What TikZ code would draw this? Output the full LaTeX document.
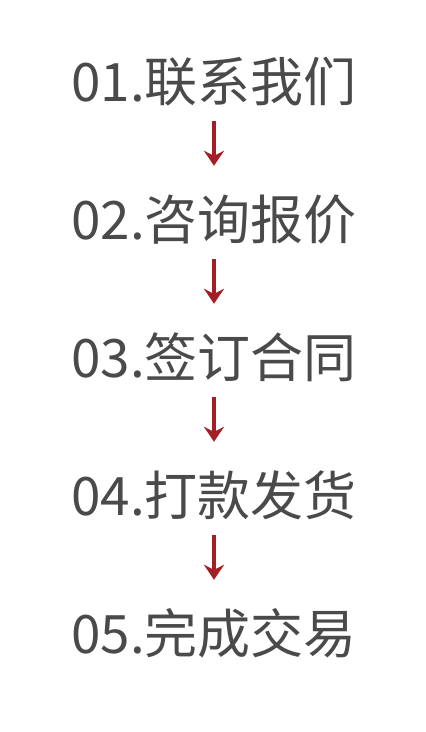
\documentclass[tikz,border=0pt]{standalone}
\usepackage{fontspec}
\setmainfont{Noto Sans CJK SC}
\usepackage{xcolor}
\usetikzlibrary{arrows.meta,positioning}
\definecolor{steptext}{HTML}{4A4A4A}
\definecolor{steparrow}{HTML}{A31F25}

\begin{document}
\begin{tikzpicture}[
  x=1pt, y=1pt,
  stepbox/.style={anchor=base, font=\fontsize{53}{60}\selectfont, text=steptext,
    text height=53pt, text depth=0pt, inner xsep=0pt, inner ysep=20pt},
  flow/.style={draw=steparrow, line width=3.2pt,
    -{Stealth[width=20pt,length=15pt,inset=5pt]}}
]
  \useasboundingbox (0,0) rectangle (426,-732);

  \node[stepbox] (s1) at (214,-101) {01.联系我们};
  \node[stepbox] (s2) at (214,-239) {02.咨询报价};
  \node[stepbox] (s3) at (214,-377) {03.签订合同};
  \node[stepbox] (s4) at (214,-515) {04.打款发货};
  \node[stepbox] (s5) at (214,-653) {05.完成交易};

  \draw[flow] (s1) -- (s2);
  \draw[flow] (s2) -- (s3);
  \draw[flow] (s3) -- (s4);
  \draw[flow] (s4) -- (s5);
\end{tikzpicture}
\end{document}
